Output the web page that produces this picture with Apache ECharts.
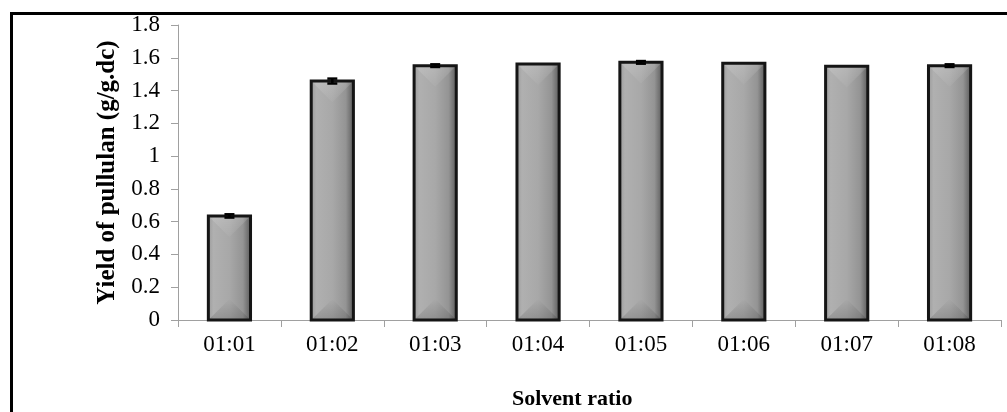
<!DOCTYPE html>
<html>
<head>
<meta charset="utf-8">
<script src="https://cdn.jsdelivr.net/npm/echarts@6/dist/echarts.min.js"></script>
<style>
  html, body { margin: 0; padding: 0; background: #fff; }
  #wrap { position: relative; width: 1007px; height: 412px; overflow: hidden; }
  #frame { position: absolute; left: 10px; top: 12px; width: 1100px; height: 500px; border: 3px solid #000; box-sizing: border-box; }
  #chart { position: absolute; left: 0; top: 0; width: 1007px; height: 412px; }
</style>
</head>
<body>
<div id="wrap">
  <div id="frame"></div>
  <div id="chart"></div>
</div>
<script>
const categories = ['01:01', '01:02', '01:03', '01:04', '01:05', '01:06', '01:07', '01:08'];
const yieldValues = [0.635, 1.458, 1.552, 1.562, 1.572, 1.566, 1.548, 1.552];
const errorValues = [0.010, 0.015, 0.008, 0.000, 0.008, 0.000, 0.000, 0.008];
const yTicks = { min: 0, max: 1.8, interval: 0.2 };

const chart = echarts.init(document.getElementById('chart'), null, { renderer: 'canvas' });
const FONT = '"Times New Roman", "Liberation Serif", serif';

function renderBar(params, api) {
  const idx = api.value(0);
  const val = api.value(1);
  const top = api.coord([idx, val]);
  const base = api.coord([idx, 0]);
  const band = api.size([1, 0])[0];
  const w = band * 0.41;
  const x0 = top[0] - w / 2, x1 = top[0] + w / 2;
  const yT = top[1], yB = base[1];
  const h = yB - yT;
  const d = Math.min(w / 2, h / 2);
  const cx = top[0];
  return {
    type: 'group',
    children: [
      { type: 'rect', shape: { x: x0, y: yT, width: w, height: h },
        style: { fill: new echarts.graphic.LinearGradient(0, 0, 1, 0, [
          { offset: 0, color: '#9c9c9c' },
          { offset: 0.12, color: '#b0b0b0' },
          { offset: 0.5, color: '#a8a8a8' },
          { offset: 0.82, color: '#949494' },
          { offset: 1, color: '#5e5e5e' }
        ]) } },
      { type: 'polygon', shape: { points: [[x0, yT], [x1, yT], [cx, yT + d]] },
        style: { fill: new echarts.graphic.LinearGradient(0, 0, 0, 1, [
          { offset: 0, color: 'rgba(255,255,255,0.16)' },
          { offset: 1, color: 'rgba(255,255,255,0.03)' }
        ]) } },
      { type: 'polygon', shape: { points: [[x0, yB], [x1, yB], [cx, yB - d]] },
        style: { fill: new echarts.graphic.LinearGradient(0, 0, 0, 1, [
          { offset: 0, color: 'rgba(0,0,0,0.0)' },
          { offset: 1, color: 'rgba(0,0,0,0.15)' }
        ]) } },
      { type: 'rect', shape: { x: x0, y: yT, width: w, height: h },
        style: { fill: 'none', stroke: '#151515', lineWidth: 3 } }
    ]
  };
}

function renderErr(params, api) {
  const idx = api.value(0);
  const val = api.value(1);
  const e = api.value(2);
  if (!(e > 0)) return null;
  const hi = api.coord([idx, val + e]);
  const lo = api.coord([idx, val - e]);
  const cap = 5;
  const st = { stroke: '#000', lineWidth: 2.5 };
  return {
    type: 'group',
    children: [
      { type: 'line', shape: { x1: hi[0], y1: hi[1], x2: lo[0], y2: lo[1] }, style: st },
      { type: 'line', shape: { x1: hi[0] - cap, y1: hi[1], x2: hi[0] + cap, y2: hi[1] }, style: st },
      { type: 'line', shape: { x1: lo[0] - cap, y1: lo[1], x2: lo[0] + cap, y2: lo[1] }, style: st }
    ]
  };
}

const option = {
  animation: false,
  backgroundColor: 'transparent',
  grid: { left: 178, right: 6, top: 25, bottom: 92, containLabel: false },
  xAxis: {
    type: 'category',
    data: categories,
    boundaryGap: true,
    axisLine: { show: true, lineStyle: { color: '#a0a0a0', width: 1 } },
    axisTick: { show: true, length: 7, lineStyle: { color: '#a0a0a0' } },
    axisLabel: { color: '#000', fontFamily: FONT, fontSize: 23, margin: 13 },
    splitLine: { show: false }
  },
  yAxis: {
    type: 'value',
    min: yTicks.min, max: yTicks.max, interval: yTicks.interval,
    name: 'Yield of pullulan (g/g.dc)',
    nameLocation: 'middle',
    nameGap: 45,
    nameRotate: 90,
    nameTextStyle: { color: '#000', fontFamily: FONT, fontSize: 25, fontWeight: 'bold' },
    axisLine: { show: true, lineStyle: { color: '#a0a0a0', width: 1 } },
    axisTick: { show: true, length: 7, lineStyle: { color: '#a0a0a0' } },
    axisLabel: { color: '#000', fontFamily: FONT, fontSize: 23, margin: 18 },
    splitLine: { show: false }
  },
  graphic: [
    { type: 'text', left: 512, top: 388,
      style: { text: 'Solvent ratio', fill: '#000', font: 'bold 22px ' + FONT } }
  ],
  series: [
    { type: 'custom', renderItem: renderBar, z: 2,
      encode: { x: 0, y: 1 },
      data: yieldValues.map((v, i) => [i, v]) },
    { type: 'custom', renderItem: renderErr, z: 3,
      encode: { x: 0, y: 1 },
      data: yieldValues.map((v, i) => [i, v, errorValues[i]]) }
  ]
};
chart.setOption(option);
</script>
</body>
</html>
